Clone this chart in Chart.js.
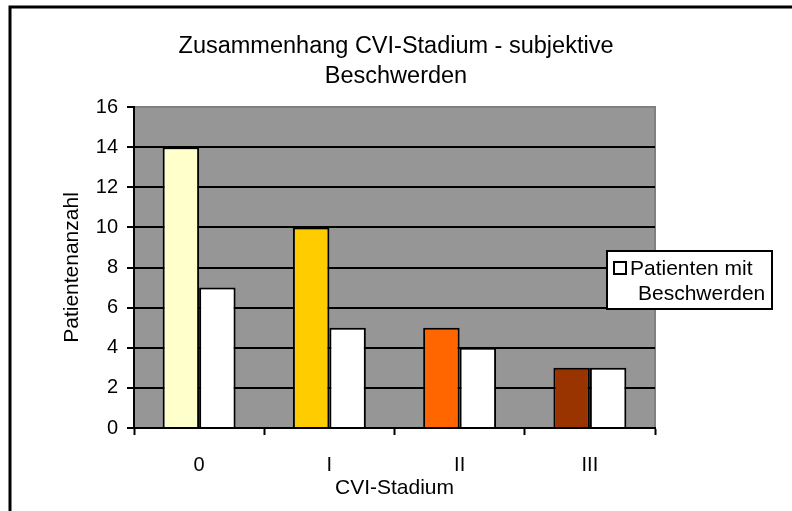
<!DOCTYPE html>
<html>
<head>
<meta charset="utf-8">
<script src="https://cdn.jsdelivr.net/npm/chart.js@4/dist/chart.umd.min.js"></script>
<style>
  html, body { margin: 0; padding: 0; background: #fff; }
  #wrap { width: 792px; height: 511px; }
</style>
</head>
<body>
<div id="wrap"><canvas id="cvi" width="792" height="511"></canvas></div>
<script>
// data
const stages = ['0', 'I', 'II', 'III'];
const patientsTotal = [14, 10, 5, 3];
const patientsWithComplaints = [7, 5, 4, 3];
const stageColors = ['#FFFFCC', '#FFCC00', '#FF6600', '#993300'];
const titleLines = ['Zusammenhang CVI-Stadium - subjektive', 'Beschwerden'];
const legendLines = ['Patienten mit', 'Beschwerden'];

const FONT = "'Liberation Sans', Arial, sans-serif";

// gray plot background + frame lines + legend box
const excelLook = {
  id: 'excelLook',
  beforeDraw(chart) {
    const { ctx, chartArea: a } = chart;
    ctx.save();
    ctx.fillStyle = '#969696';
    ctx.fillRect(a.left, a.top, a.right - a.left, a.bottom - a.top);
    ctx.strokeStyle = '#808080';
    ctx.lineWidth = 2;
    ctx.beginPath();
    ctx.moveTo(a.left, a.top);
    ctx.lineTo(a.right, a.top);
    ctx.lineTo(a.right, a.bottom);
    ctx.stroke();
    // outer chart border (only top/left visible)
    ctx.strokeStyle = '#000';
    ctx.lineWidth = 3;
    ctx.beginPath();
    ctx.moveTo(10, 511);
    ctx.lineTo(10, 7);
    ctx.lineTo(792, 7);
    ctx.stroke();
    ctx.restore();
  },
  afterDraw(chart) {
    const ctx = chart.ctx;
    ctx.save();
    ctx.fillStyle = '#fff';
    ctx.strokeStyle = '#000';
    ctx.lineWidth = 2;
    ctx.fillRect(607, 251, 165, 58);
    ctx.strokeRect(607, 251, 165, 58);
    ctx.fillRect(614, 262, 12, 12);
    ctx.strokeRect(614, 262, 12, 12);
    ctx.fillStyle = '#000';
    ctx.font = '21px ' + FONT;
    ctx.textBaseline = 'middle';
    ctx.textAlign = 'left';
    ctx.fillText(legendLines[0], 630, 269);
    ctx.fillText(legendLines[1], 638, 294);
    ctx.restore();
  }
};

new Chart(document.getElementById('cvi'), {
  type: 'bar',
  data: {
    labels: stages,
    datasets: [
      {
        label: 'Patienten',
        data: patientsTotal,
        backgroundColor: stageColors,
        borderColor: '#000',
        borderWidth: 2,
        categoryPercentage: 0.56,
        barPercentage: 1.0
      },
      {
        label: 'Patienten mit Beschwerden',
        data: patientsWithComplaints,
        backgroundColor: '#FFFFFF',
        borderColor: '#000',
        borderWidth: 2,
        categoryPercentage: 0.56,
        barPercentage: 1.0
      }
    ]
  },
  options: {
    responsive: false,
    animation: false,
    layout: {
      padding: { top: 20, left: 5, right: 5, bottom: 4 }
    },
    plugins: {
      legend: { display: false },
      tooltip: { enabled: false },
      title: {
        display: true,
        text: titleLines,
        color: '#000',
        font: { family: FONT, size: 23.5, weight: 'normal', lineHeight: '30px' },
        padding: { top: 12, bottom: 15 }
      }
    },
    scales: {
      x: {
        grid: {
          offset: true,
          drawOnChartArea: false,
          drawTicks: true,
          tickLength: 7,
          tickWidth: 2,
          tickColor: '#000'
        },
        border: { color: '#000', width: 2 },
        ticks: {
          color: '#000',
          font: { family: FONT, size: 20 },
          padding: 18,
          maxRotation: 0
        },
        title: {
          display: true,
          text: 'CVI-Stadium',
          color: '#000',
          font: { family: FONT, size: 21 },
          padding: { top: 0, bottom: 6 }
        },
        afterFit(scale) { scale.height = 79; }
      },
      y: {
        min: 0,
        max: 16,
        ticks: {
          stepSize: 2,
          color: '#000',
          font: { family: FONT, size: 20 },
          padding: 9
        },
        grid: {
          color: c => (c.tick && c.tick.value === 16 ? '#808080' : '#000'),
          lineWidth: 2,
          tickLength: 7,
          tickColor: '#000'
        },
        border: { color: '#000', width: 2 },
        title: {
          display: true,
          text: 'Patientenanzahl',
          color: '#000',
          font: { family: FONT, size: 21 },
          padding: { top: 55, bottom: 0 }
        },
        afterFit(scale) { scale.width = 129; }
      },
      // empty right-hand axis: reserves room for the legend area
      yRight: {
        position: 'right',
        min: 0,
        max: 16,
        grid: { display: false },
        border: { display: false },
        ticks: { display: false },
        afterFit(scale) { scale.width = 132; }
      }
    }
  },
  plugins: [excelLook]
});
</script>
</body>
</html>
